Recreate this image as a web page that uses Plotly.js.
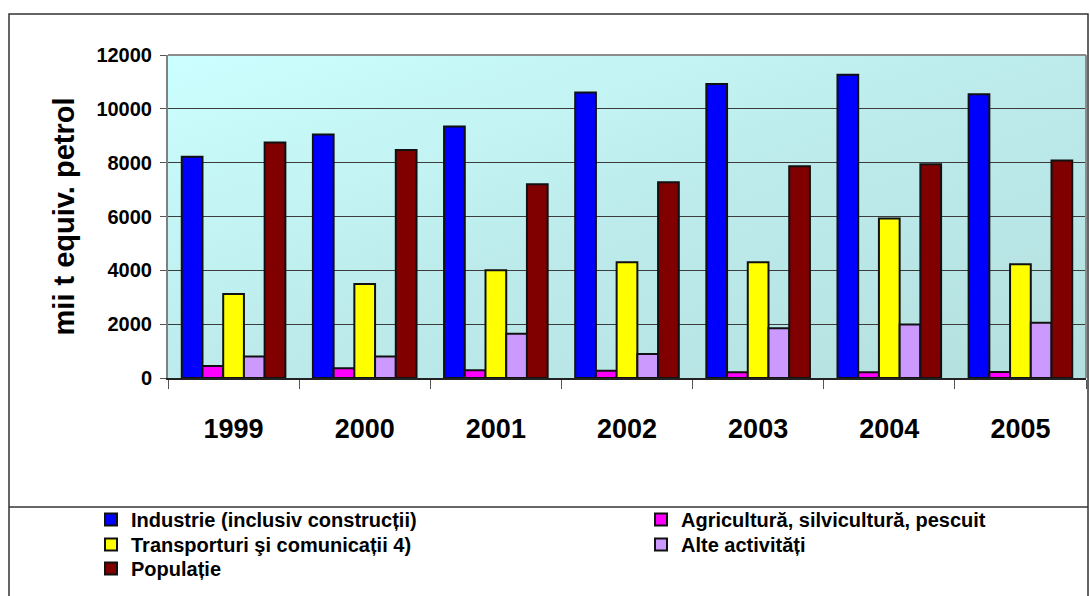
<!DOCTYPE html>
<html>
<head>
<meta charset="utf-8">
<script src="https://cdn.plot.ly/plotly-3.0.1.min.js"></script>
<style>
  html, body { margin: 0; padding: 0; background: #ffffff; }
  #chart { width: 1090px; height: 596px; }
</style>
</head>
<body>
<div id="chart"></div>
<script>
// Final energy consumption by sector, thousand tonnes oil equivalent
const years = ['1999', '2000', '2001', '2002', '2003', '2004', '2005'];
const industrie      = [8220, 9050, 9340, 10610, 10920, 11270, 10540];
const agricultura    = [450, 360, 285, 270, 215, 210, 220];
const transporturi   = [3120, 3490, 4000, 4300, 4300, 5930, 4230];
const alteActivitati = [800, 800, 1645, 890, 1845, 1990, 2050];
const populatie      = [8745, 8475, 7200, 7270, 7870, 7940, 8080];

const seriesNames = [
  'Industrie (inclusiv construcții)',
  'Agricultură, silvicultură, pescuit',
  'Transporturi şi comunicații 4)',
  'Alte activități',
  'Populație'
];
const seriesValues = [industrie, agricultura, transporturi, alteActivitati, populatie];
const seriesColors = ['#0000FF', '#FF00FF', '#FFFF00', '#CC99FF', '#800000'];

const FONT = 'Arial, "Liberation Sans", sans-serif';

// plot area in pixels: left 168, right 1086, top 55, bottom 378
const L = 168, R = 1086, T = 55, B = 378;
const px = v => (v - L) / (R - L);
const py = v => (B - v) / (B - T);

// one legend per entry so the key reads as a two-column grid
const legendIds = ['legend', 'legend2', 'legend3', 'legend4', 'legend5'];
const legendPos = [[91, 500], [641, 500], [91, 525], [641, 525], [91, 549]];

const traces = seriesValues.map((vals, i) => ({
  type: 'bar',
  name: seriesNames[i],
  x: years,
  y: vals,
  legend: legendIds[i],
  marker: { color: seriesColors[i], line: { color: '#111111', width: 2 } },
  hoverinfo: 'skip'
}));

// light cyan gradient behind the plot area
const bgSvg = "<svg xmlns='http://www.w3.org/2000/svg' width='100' height='100' preserveAspectRatio='none'>" +
  "<defs><linearGradient id='g' x1='0' y1='0' x2='1' y2='1'>" +
  "<stop offset='0' stop-color='#CCFFFF'/><stop offset='0.5' stop-color='#BDEBEB'/>" +
  "<stop offset='1' stop-color='#B4DFDF'/></linearGradient></defs>" +
  "<rect width='100' height='100' fill='url(#g)'/></svg>";
const bgUri = 'data:image/svg+xml;charset=utf-8,' + encodeURIComponent(bgSvg);

const layout = {
  width: 1090,
  height: 596,
  margin: { l: L, r: 1090 - R, t: T, b: 596 - B, pad: 0, autoexpand: false },
  paper_bgcolor: '#ffffff',
  plot_bgcolor: 'rgba(0,0,0,0)',
  barmode: 'group',
  bargap: 0.21,
  bargroupgap: 0,
  showlegend: true,
  font: { family: FONT, color: '#000000' },
  xaxis: {
    type: 'category',
    tickson: 'boundaries',
    ticks: 'outside',
    ticklen: 9,
    tickwidth: 1,
    tickcolor: '#555555',
    showline: true,
    linecolor: '#222222',
    linewidth: 2,
    showgrid: false,
    ticklabelstandoff: 26,
    tickfont: { family: FONT, size: 27, weight: 'bold', color: '#000000' },
    fixedrange: true
  },
  yaxis: {
    range: [0, 12000],
    tickvals: [0, 2000, 4000, 6000, 8000, 10000, 12000],
    ticktext: ['0', '2000', '4000', '6000', '8000', '10000', '12000'],
    ticks: 'outside',
    ticklen: 6,
    tickwidth: 1,
    tickcolor: '#555555',
    showline: true,
    linecolor: '#808080',
    linewidth: 2,
    showgrid: true,
    gridcolor: '#3c3c3c',
    gridwidth: 1,
    zeroline: false,
    ticklabelstandoff: 4,
    tickfont: { family: FONT, size: 20, weight: 'bold', color: '#000000' },
    title: {
      text: 'mii t equiv. petrol',
      font: { family: FONT, size: 29, weight: 'bold', color: '#000000' },
      standoff: 13
    },
    fixedrange: true
  },
  images: [{
    source: bgUri,
    xref: 'paper', yref: 'paper',
    x: 0, y: 1, sizex: 1, sizey: 1,
    xanchor: 'left', yanchor: 'top',
    sizing: 'stretch',
    layer: 'below'
  }],
  shapes: [
    // top and right edges of the plot area
    { type: 'line', xref: 'paper', yref: 'paper', x0: 0, x1: 1, y0: 1, y1: 1,
      line: { color: '#8c8c8c', width: 2 }, layer: 'above' },
    { type: 'line', xref: 'paper', yref: 'paper', x0: 1, x1: 1, y0: 0, y1: 1,
      line: { color: '#8c8c8c', width: 2 }, layer: 'above' },
    // outer chart frame
    { type: 'rect', xref: 'paper', yref: 'paper',
      x0: px(9), x1: px(1088), y0: py(640), y1: py(14),
      line: { color: '#333333', width: 1.5 }, fillcolor: 'rgba(0,0,0,0)', layer: 'above' },
    // divider above the legend
    { type: 'line', xref: 'paper', yref: 'paper', x0: px(9), x1: px(1088), y0: py(507), y1: py(507),
      line: { color: '#333333', width: 1.5 }, layer: 'above' }
  ]
};

legendIds.forEach((id, i) => {
  layout[id] = {
    orientation: 'v',
    x: px(legendPos[i][0]),
    xanchor: 'left',
    y: py(legendPos[i][1]),
    yanchor: 'top',
    bgcolor: 'rgba(0,0,0,0)',
    borderwidth: 0,
    itemclick: false,
    itemdoubleclick: false,
    font: { family: FONT, size: 20, weight: 'bold', color: '#000000' }
  };
});

Plotly.newPlot('chart', traces, layout, { displayModeBar: false, staticPlot: true });
</script>
</body>
</html>
